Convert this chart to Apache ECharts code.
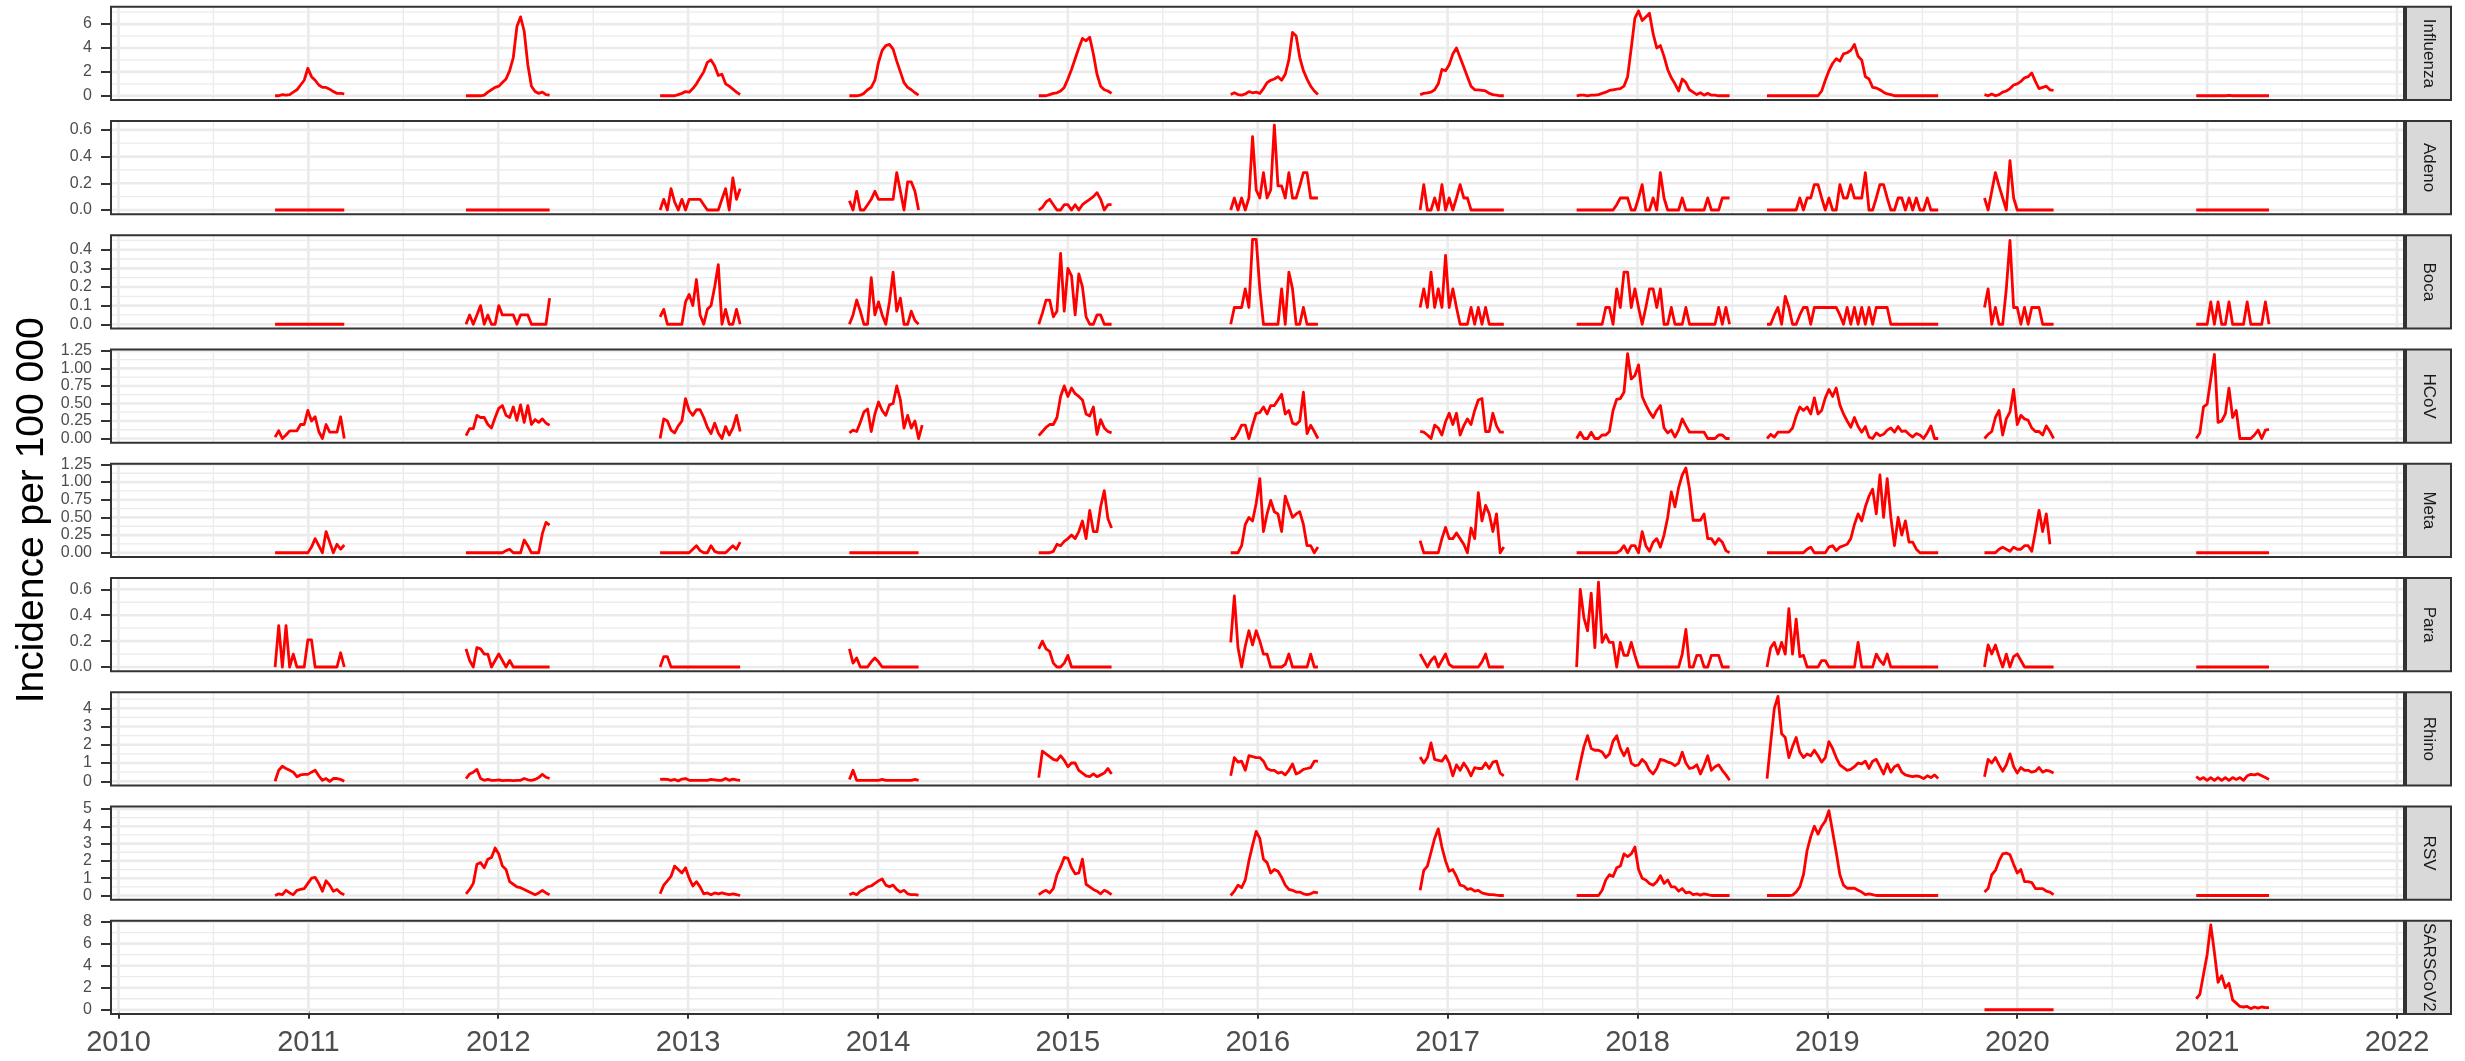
<!DOCTYPE html>
<html><head><meta charset="utf-8">
<script src="https://cdn.jsdelivr.net/npm/echarts@6/dist/echarts.min.js"></script>
<style>html,body{margin:0;padding:0;background:#fff}#c{width:2465px;height:1061px}</style>
</head><body><div id="c"></div>
<script>
// ---------------- DATA ----------------
const seasonStarts = ['2010-10-29','2011-10-31','2012-11-08','2013-11-07','2014-11-06','2015-11-10','2016-11-09','2017-09-06','2018-09-07','2019-10-30','2020-12-11'];
const pathogens = ['Influenza','Adeno','Boca','HCoV','Meta','Para','Rhino','RSV','SARSCoV2'];
const xTickYears = [2010,2011,2012,2013,2014,2015,2016,2017,2018,2019,2020,2021,2022];
const xMinorYears = [2010.5,2011.5,2012.5,2013.5,2014.5,2015.5,2016.5,2017.5,2018.5,2019.5,2020.5,2021.5];

const influenza = [
 [0,0,0.1,0.05,0.1,0.3,0.5,0.9,1.3,2.3,1.6,1.3,0.9,0.7,0.7,0.55,0.35,0.2,0.2,0.15],
 [0,0,0,0,0,0.05,0.3,0.5,0.7,0.8,1.1,1.4,2.1,3.2,5.8,6.6,5.4,2.6,0.8,0.35,0.2,0.3,0.1,0.05],
 [0,0,0,0,0,0.1,0.2,0.35,0.3,0.6,1.0,1.5,2.0,2.8,3.0,2.5,1.7,1.8,1.0,0.8,0.55,0.3,0.1],
 [0,0,0,0.05,0.2,0.5,0.7,1.3,2.8,3.8,4.2,4.3,3.9,2.9,2.0,1.1,0.7,0.5,0.25,0.05],
 [0,0,0,0.1,0.2,0.25,0.4,0.7,1.4,2.2,3.1,4.0,4.8,4.6,4.9,3.5,1.8,0.8,0.5,0.4,0.2],
 [0.1,0.25,0.1,0.05,0.15,0.35,0.25,0.3,0.2,0.6,1.1,1.3,1.4,1.6,1.3,1.8,3.0,5.3,5.0,3.2,2.1,1.4,0.8,0.4,0.1],
 [0.1,0.2,0.25,0.3,0.5,1.0,2.2,2.1,2.6,3.5,4.0,3.2,2.4,1.6,0.8,0.5,0.5,0.45,0.4,0.2,0.1,0.05,0,0],
 [0,0.05,0.05,0,0.05,0.05,0.1,0.2,0.3,0.45,0.5,0.55,0.6,0.8,1.6,4.0,6.5,7.1,6.3,6.6,6.9,5.2,4.0,4.2,3.3,2.2,1.5,1.0,0.4,1.4,1.1,0.5,0.3,0.1,0.25,0.05,0.2,0.05,0.05,0,0,0,0],
 [0,0,0,0,0,0,0,0,0,0,0,0,0,0,0,0.4,1.3,2.1,2.7,3.1,2.9,3.5,3.6,3.8,4.3,3.3,3.0,1.6,1.4,0.7,0.65,0.5,0.3,0.15,0.1,0,0,0,0,0,0,0,0,0,0,0,0,0],
 [0.1,0,0.15,0,0.1,0.3,0.4,0.6,0.9,1.0,1.2,1.5,1.6,1.9,1.2,0.6,0.7,0.8,0.5,0.45],
 [0,0,0,0,0,0,0,0,0,0.03,0,0,0,0,0,0,0,0,0,0,0]
];
const adeno = [
 [0,0,0,0,0,0,0,0,0,0,0,0,0,0,0,0,0,0,0,0],
 [0,0,0,0,0,0,0,0,0,0,0,0,0,0,0,0,0,0,0,0,0,0,0,0],
 [0,0.08,0,0.16,0.06,0,0.08,0,0.08,0.08,0.08,0.08,0.04,0,0,0,0,0.08,0.16,0,0.24,0.08,0.16],
 [0.07,0,0.14,0,0,0.04,0.08,0.14,0.08,0.08,0.08,0.08,0.08,0.28,0.14,0,0.21,0.21,0.14,0],
 [0,0.02,0.06,0.08,0.04,0,0,0.04,0.04,0,0.04,0,0.04,0.06,0.08,0.1,0.13,0.08,0,0.04,0.04],
 [0,0.09,0,0.09,0,0.09,0.55,0.15,0.09,0.28,0.09,0.15,0.635,0.18,0.18,0.09,0.28,0.09,0.09,0.18,0.28,0.28,0.09,0.09,0.09],
 [0,0.19,0,0,0.09,0,0.19,0,0.09,0,0.09,0.19,0.09,0.09,0,0,0,0,0,0,0,0,0,0],
 [0,0,0,0,0,0,0,0,0,0,0,0.04,0.09,0.09,0.09,0,0,0.09,0.19,0,0,0.09,0,0.28,0.09,0,0,0,0,0.09,0,0,0,0,0,0,0.09,0,0,0,0.09,0.09,0.09],
 [0,0,0,0,0,0,0,0,0,0.09,0,0.09,0.09,0.19,0.19,0.09,0,0.09,0,0,0.19,0.09,0.09,0.19,0.09,0.09,0.09,0.28,0,0,0.09,0.19,0.19,0.09,0,0,0.09,0.09,0,0.09,0,0.09,0,0,0.09,0,0,0],
 [0.09,0,0.14,0.28,0.18,0.09,0,0.37,0.09,0,0,0,0,0,0,0,0,0,0,0],
 [0,0,0,0,0,0,0,0,0,0,0,0,0,0,0,0,0,0,0,0,0]
];
const boca = [
 [0,0,0,0,0,0,0,0,0,0,0,0,0,0,0,0,0,0,0,0],
 [0,0.05,0,0.05,0.1,0,0.05,0,0,0.1,0.05,0.05,0.05,0.05,0,0.05,0.05,0.05,0,0,0,0,0,0.14],
 [0.04,0.08,0,0,0,0,0,0.12,0.16,0.1,0.24,0.05,0,0.08,0.1,0.2,0.32,0,0.08,0,0,0.08,0],
 [0,0.05,0.13,0.07,0,0,0.25,0.05,0.12,0.05,0,0.12,0.28,0.07,0.14,0,0,0.07,0.02,0],
 [0,0.06,0.13,0.13,0.04,0.07,0.38,0.07,0.3,0.26,0.05,0.27,0.2,0.04,0,0,0.05,0.05,0,0,0],
 [0,0.09,0.09,0.09,0.19,0.09,0.455,0.455,0.19,0,0,0,0,0,0.19,0,0.28,0.19,0,0,0.09,0,0,0,0],
 [0.09,0.19,0.09,0.28,0.09,0.19,0.09,0.37,0.09,0.19,0.09,0,0,0,0.09,0,0.09,0,0.09,0,0,0,0,0],
 [0,0,0,0,0,0,0,0,0.09,0.09,0,0.19,0.09,0.28,0.28,0.09,0.19,0.09,0,0.09,0.19,0.19,0.09,0.19,0,0,0.09,0,0,0,0.09,0,0,0,0,0,0,0,0,0.09,0,0.09,0],
 [0,0,0.05,0.09,0,0.15,0.09,0,0,0.05,0.09,0.09,0,0.09,0.09,0.09,0.09,0.09,0.09,0.09,0.05,0,0.09,0,0.09,0,0.09,0,0.09,0,0.09,0.09,0.09,0.09,0,0,0,0,0,0,0,0,0,0,0,0,0,0],
 [0.09,0.19,0,0.09,0,0,0.19,0.45,0.09,0.09,0,0.09,0,0.09,0.09,0.09,0,0,0,0],
 [0,0,0,0,0.12,0,0.12,0,0,0.12,0,0,0,0,0.12,0,0,0,0,0.12,0]
];
const hcov = [
 [0.02,0.11,0,0.05,0.11,0.11,0.11,0.2,0.2,0.4,0.25,0.31,0.1,0,0.2,0.09,0.09,0.09,0.31,0],
 [0.04,0.14,0.14,0.33,0.3,0.3,0.2,0.15,0.3,0.43,0.47,0.33,0.3,0.45,0.26,0.48,0.23,0.47,0.2,0.27,0.23,0.28,0.22,0.19],
 [0,0.28,0.25,0.12,0.08,0.18,0.25,0.57,0.4,0.33,0.41,0.41,0.3,0.16,0.07,0.22,0.08,0,0.17,0.05,0.15,0.33,0.1],
 [0.08,0.12,0.1,0.23,0.38,0.42,0.1,0.35,0.52,0.4,0.33,0.48,0.5,0.75,0.55,0.15,0.33,0.15,0.25,0,0.19],
 [0.04,0.1,0.16,0.2,0.2,0.3,0.6,0.75,0.6,0.72,0.64,0.6,0.55,0.35,0.32,0.45,0.06,0.27,0.15,0.1,0.08],
 [0,0,0.08,0.19,0.19,0,0.19,0.36,0.37,0.45,0.35,0.47,0.47,0.55,0.63,0.35,0.4,0.22,0.2,0.25,0.66,0.07,0.19,0.1,0],
 [0.1,0.09,0.05,0,0.19,0.15,0.05,0.24,0.36,0.2,0.36,0.05,0.18,0.28,0.2,0.4,0.55,0.57,0.1,0.1,0.36,0.18,0.09,0.09],
 [0,0.09,0,0,0.09,0,0,0.05,0.05,0.1,0.4,0.56,0.57,0.66,1.21,0.85,0.9,1.05,0.6,0.48,0.38,0.3,0.4,0.47,0.15,0.08,0.12,0.02,0.12,0.28,0.18,0.09,0.09,0.09,0.09,0.09,0,0,0,0.05,0.05,0,0],
 [0,0.06,0.02,0.09,0.09,0.09,0.09,0.15,0.32,0.45,0.4,0.45,0.35,0.58,0.35,0.4,0.58,0.7,0.6,0.72,0.48,0.35,0.25,0.16,0.3,0.17,0.09,0.17,0.02,0,0.08,0.04,0.06,0.12,0.15,0.09,0.17,0.1,0.11,0.06,0.02,0.07,0.05,0,0.08,0.18,0,0],
 [0,0.06,0.1,0.3,0.4,0.05,0.28,0.38,0.7,0.2,0.33,0.28,0.26,0.15,0.1,0.1,0.05,0.18,0.1,0],
 [0,0.08,0.45,0.49,0.85,1.2,0.23,0.25,0.35,0.72,0.3,0.4,0,0,0,0,0.05,0.12,0,0.12,0.13]
];
const meta = [
 [0,0,0,0,0,0,0,0,0,0,0.08,0.2,0.1,0,0.3,0.15,0,0.12,0.05,0.11],
 [0,0,0,0,0,0,0,0,0,0,0,0.03,0.05,0,0,0,0.18,0.1,0,0,0,0.27,0.43,0.39],
 [0,0,0,0,0,0,0,0,0,0.05,0.1,0.03,0,0,0.1,0.02,0,0,0,0.05,0.1,0.05,0.15],
 [0,0,0,0,0,0,0,0,0,0,0,0,0,0,0,0,0,0,0,0],
 [0,0,0,0,0.02,0.12,0.1,0.16,0.2,0.25,0.2,0.3,0.45,0.2,0.6,0.3,0.3,0.65,0.88,0.48,0.35],
 [0,0,0,0.1,0.4,0.5,0.45,0.7,1.05,0.3,0.55,0.74,0.58,0.55,0.3,0.8,0.65,0.5,0.55,0.58,0.4,0.1,0.1,0,0.08],
 [0.17,0,0,0,0,0,0.2,0.36,0.2,0.2,0.28,0.2,0.12,0,0.35,0.2,0.85,0.45,0.67,0.55,0.3,0.55,0,0.08],
 [0,0,0,0,0,0,0,0,0,0,0,0,0.03,0.1,0,0.1,0.1,0,0.3,0.1,0.02,0.15,0.2,0.08,0.25,0.5,0.86,0.65,0.92,1.1,1.2,0.9,0.46,0.46,0.46,0.55,0.2,0.2,0.12,0.2,0.15,0.03,0],
 [0,0,0,0,0,0,0,0,0,0,0,0.05,0.08,0,0,0,0,0.08,0.1,0.03,0.08,0.1,0.12,0.2,0.4,0.55,0.45,0.65,0.8,0.9,0.55,1.1,0.5,1.05,0.5,0.1,0.5,0.25,0.45,0.15,0.15,0.05,0,0,0,0,0,0],
 [0,0,0,0,0.05,0.08,0.05,0.02,0.08,0.05,0.05,0.1,0.1,0.02,0.3,0.6,0.3,0.55,0.12],
 [0,0,0,0,0,0,0,0,0,0,0,0,0,0,0,0,0,0,0,0,0]
];
const para = [
 [0,0.32,0,0.32,0,0.1,0,0,0,0.21,0.21,0,0,0,0,0,0,0,0.11,0],
 [0.14,0.05,0,0.15,0.14,0.1,0.1,0,0.05,0.1,0.05,0,0.05,0,0,0,0,0,0,0,0,0,0,0],
 [0,0.08,0.08,0,0,0,0,0,0,0,0,0,0,0,0,0,0,0,0,0,0,0,0],
 [0.14,0.03,0.07,0,0,0,0.04,0.07,0.04,0,0,0,0,0,0,0,0,0,0,0],
 [0.14,0.2,0.14,0.12,0.03,0,0,0.03,0.09,0,0,0,0,0,0,0,0,0,0,0,0],
 [0.19,0.55,0.15,0,0.16,0.28,0.17,0.28,0.2,0.1,0.1,0,0,0,0,0.02,0.1,0,0,0,0,0,0.1,0,0],
 [0.1,0.05,0,0.05,0.08,0,0.05,0.1,0.02,0,0,0,0,0,0,0,0,0.04,0.1,0,0,0,0,0],
 [0,0.6,0.38,0.28,0.57,0.15,0.655,0.19,0.25,0.19,0.19,0,0.19,0.09,0.09,0.19,0.09,0,0,0,0,0,0,0,0,0,0,0,0,0.1,0.29,0,0,0.09,0.09,0,0,0.09,0.09,0.09,0,0,0],
 [0,0.15,0.19,0.1,0.19,0.1,0.45,0.1,0.37,0.08,0.09,0,0,0,0,0.05,0.05,0,0,0,0,0,0,0,0,0.19,0,0,0,0,0.1,0.05,0.02,0.1,0,0,0,0,0,0,0,0,0,0,0,0,0,0],
 [0,0.17,0.1,0.17,0.08,0,0.1,0,0.08,0.1,0.05,0,0,0,0,0,0,0,0,0],
 [0,0,0,0,0,0,0,0,0,0,0,0,0,0,0,0,0,0,0,0,0]
];
const rhino = [
 [0,0.6,0.82,0.7,0.6,0.5,0.25,0.35,0.38,0.38,0.5,0.6,0.3,0.05,0.15,0,0.15,0.15,0.1,0],
 [0.15,0.4,0.5,0.65,0.15,0.05,0.1,0.05,0.05,0.08,0.03,0.05,0.05,0.03,0.05,0.05,0.15,0.08,0.05,0.1,0.2,0.38,0.22,0.15],
 [0.1,0.12,0.1,0.05,0.1,0.02,0.12,0.15,0.05,0.05,0.05,0.05,0.05,0.05,0.1,0.08,0.05,0.05,0.15,0.05,0.12,0.08,0.05],
 [0.1,0.6,0.05,0.05,0.05,0.05,0.05,0.05,0.05,0.1,0.05,0.05,0.05,0.05,0.05,0.05,0.05,0.05,0.1,0.05],
 [0.2,1.65,1.5,1.35,1.2,1.15,1.4,1.15,0.8,1.0,1.0,0.6,0.45,0.3,0.25,0.4,0.25,0.35,0.45,0.7,0.4],
 [0.3,1.3,1.05,1.1,0.6,1.4,1.35,1.3,1.3,1.1,0.7,0.6,0.6,0.45,0.5,0.35,0.6,0.95,0.4,0.5,0.65,0.7,0.75,1.1,1.1],
 [1.33,1.0,1.3,2.1,1.2,1.15,1.1,1.4,1.0,0.3,0.9,0.6,1.0,0.7,0.3,0.75,0.7,0.7,1.0,0.7,1.05,1.1,0.45,0.3],
 [0.05,1.0,1.9,2.5,1.8,1.7,1.7,1.6,1.3,1.5,2.2,2.5,1.8,1.4,1.8,1.0,0.85,0.9,1.2,1.0,0.6,0.4,0.7,1.2,1.15,1.05,1.0,0.85,1.0,1.6,1.0,0.7,0.75,0.9,0.4,0.85,1.4,0.6,0.8,0.9,0.6,0.35,0.05],
 [0.15,2.1,4.0,4.65,2.6,2.4,1.3,1.9,2.4,1.6,1.3,1.5,1.4,1.7,1.4,1.05,1.3,2.17,1.8,1.3,0.9,0.75,0.6,0.65,0.8,1.0,0.95,1.1,0.7,1.1,1.2,0.8,0.4,0.95,0.5,0.8,0.9,0.5,0.35,0.3,0.25,0.3,0.25,0.15,0.3,0.2,0.35,0.15],
 [0.25,1.2,1.0,1.3,0.9,0.55,0.9,1.5,0.8,0.45,0.75,0.6,0.6,0.5,0.55,0.75,0.5,0.6,0.55,0.45],
 [0.25,0.1,0.2,0.05,0.2,0.05,0.2,0.05,0.2,0.05,0.2,0.1,0.2,0.05,0.3,0.38,0.35,0.4,0.3,0.2,0.1]
];
const rsv = [
 [0,0.1,0.05,0.3,0.15,0.05,0.3,0.35,0.4,0.7,1.0,1.05,0.7,0.25,0.85,0.6,0.25,0.35,0.15,0.05],
 [0.1,0.35,0.7,1.8,1.9,1.6,2.1,2.2,2.75,2.4,1.7,1.5,0.8,0.65,0.5,0.45,0.35,0.25,0.15,0.05,0.15,0.3,0.15,0.05],
 [0.1,0.6,0.85,1.1,1.7,1.5,1.3,1.6,1.0,0.55,0.8,0.5,0.1,0.15,0.05,0.15,0.1,0.15,0.1,0.05,0.1,0.05,0],
 [0.05,0.15,0.05,0.25,0.35,0.5,0.55,0.7,0.85,0.95,0.6,0.5,0.6,0.35,0.2,0.3,0.1,0.05,0.05,0.02],
 [0.05,0.2,0.3,0.15,0.4,1.2,1.65,2.2,2.15,1.6,1.25,1.3,2.1,0.65,0.5,0.35,0.25,0.1,0.3,0.2,0.05],
 [0,0.25,0.6,0.45,0.9,2.0,2.9,3.7,3.3,2.1,1.9,1.3,1.5,1.4,1.05,0.6,0.35,0.3,0.2,0.2,0.1,0.05,0.1,0.2,0.15],
 [0.3,1.45,1.7,2.5,3.3,3.85,2.8,2.0,1.4,1.5,1.1,0.6,0.55,0.35,0.4,0.25,0.3,0.15,0.1,0.05,0.05,0.02,0,0],
 [0,0,0,0,0,0,0,0.3,0.9,1.2,1.1,1.6,1.7,2.4,2.25,2.4,2.8,1.5,1.0,0.9,0.7,0.6,0.8,1.15,0.7,0.9,0.5,0.5,0.25,0.4,0.15,0.2,0.05,0.1,0.02,0.1,0.05,0,0,0,0,0,0],
 [0,0,0,0,0,0,0,0.02,0.2,0.5,1.2,2.6,3.4,4.0,3.55,4.0,4.3,4.9,3.7,2.5,1.2,0.6,0.42,0.42,0.42,0.3,0.2,0.05,0.1,0.05,0,0,0,0,0,0,0,0,0,0,0,0,0,0,0,0,0,0],
 [0.2,0.4,1.2,1.45,2.0,2.4,2.45,2.35,1.8,1.3,1.5,0.8,0.8,0.75,0.4,0.4,0.4,0.25,0.2,0.05],
 [0,0,0,0,0,0,0,0,0,0,0,0,0,0,0,0,0,0,0,0,0]
];
const sarscov2 = [
 null,null,null,null,null,null,null,null,null,
 [0,0,0,0,0,0,0,0,0,0,0,0,0,0,0,0,0,0,0,0],
 [1.0,1.4,3.2,5.0,7.7,5.2,2.5,3.1,2.0,2.4,0.9,0.6,0.3,0.25,0.3,0.1,0.25,0.15,0.25,0.2,0.2]
];
const seriesValues = [influenza, adeno, boca, hcov, meta, para, rhino, rsv, sarscov2];

const yTickValues = [
 [0,2,4,6], [0,0.2,0.4,0.6], [0,0.1,0.2,0.3,0.4], [0,0.25,0.5,0.75,1,1.25], [0,0.25,0.5,0.75,1,1.25],
 [0,0.2,0.4,0.6], [0,1,2,3,4], [0,1,2,3,4,5], [0,2,4,6,8]
];
const yMinorValues = [
 [1,3,5,7], [0.1,0.3,0.5], [0.05,0.15,0.25,0.35,0.45], [0.125,0.375,0.625,0.875,1.125], [0.125,0.375,0.625,0.875,1.125],
 [0.1,0.3,0.5], [0.5,1.5,2.5,3.5,4.5], [0.5,1.5,2.5,3.5,4.5], [1,3,5,7]
];
const yLabelDecimals = [0,1,1,2,2,1,0,0,0];

// ---------------- LAYOUT / STYLE ----------------
const FONT = '"Liberation Sans", Arial, Helvetica, sans-serif';
const PANEL_LEFT = 111, PANEL_RIGHT = 2404, PANEL_TOP0 = 6.7, PANEL_STEP = 114.25, PANEL_H = 93.3;
const STRIP_X = 2406, STRIP_W = 45;
const PX_PER_YEAR = (2397 - 118.5) / 12;
const X_MIN = 2010 - (118.5 - PANEL_LEFT) / PX_PER_YEAR;
const X_MAX = 2022 + (PANEL_RIGHT - 2397) / PX_PER_YEAR;

function decYear(ms) {
  const d = new Date(ms); const y = d.getUTCFullYear();
  const a = Date.UTC(y, 0, 1), b = Date.UTC(y + 1, 0, 1);
  return y + (ms - a) / (b - a);
}
function weekX(start, k) { return decYear(Date.parse(start + 'T00:00:00Z') + k * 7 * 864e5); }

const grids = [], xAxes = [], yAxes = [], series = [], graphics = [];
const n = pathogens.length;

pathogens.forEach((name, i) => {
  const top = PANEL_TOP0 + i * PANEL_STEP;
  const isLast = i === n - 1;
  grids.push({ left: PANEL_LEFT, top: top, width: PANEL_RIGHT - PANEL_LEFT, height: PANEL_H, containLabel: false });

  const seasons = seriesValues[i];
  let M = 0;
  seasons.forEach(s => { if (s) s.forEach(v => { if (v > M) M = v; }); });
  const yMin = -0.05 * M, yMax = 1.05 * M;
  const ticks = yTickValues[i];
  const step = ticks[1] - ticks[0];
  const dec = yLabelDecimals[i];

  xAxes.push({
    type: 'value', gridIndex: i, min: X_MIN, max: X_MAX,
    minInterval: 1, maxInterval: 1,
    axisLine: { show: false },
    splitLine: { show: false },
    axisTick: { show: isLast, length: 9, lineStyle: { color: '#333333', width: 2 }, customValues: xTickYears },
    axisLabel: {
      show: isLast, customValues: xTickYears, fontSize: 29, color: '#4d4d4d', fontFamily: FONT, margin: 14,
      formatter: v => (Math.abs(v - Math.round(v)) < 1e-6 ? String(Math.round(v)) : '')
    }
  });
  yAxes.push({
    type: 'value', gridIndex: i, min: yMin, max: yMax,
    minInterval: step, maxInterval: step,
    axisLine: { show: false },
    splitLine: { show: false },
    axisTick: { show: true, length: 10, lineStyle: { color: '#333333', width: 2 }, customValues: ticks },
    axisLabel: {
      show: true, customValues: ticks, fontSize: 16, color: '#4d4d4d', fontFamily: FONT, margin: 19,
      formatter: v => {
        const ok = ticks.some(t => Math.abs(t - v) < 1e-9);
        return ok ? Number(v).toFixed(dec) : '';
      }
    }
  });

  // background grid lines (major / minor) as a custom series
  const gridData = [];
  xTickYears.forEach(v => gridData.push([v, 0, 0, 1]));
  xMinorYears.forEach(v => gridData.push([v, 0, 0, 0]));
  ticks.forEach(v => { if (v >= yMin && v <= yMax) gridData.push([2016, v, 1, 1]); });
  yMinorValues[i].forEach(v => { if (v >= yMin && v <= yMax) gridData.push([2016, v, 1, 0]); });
  series.push({
    type: 'custom', xAxisIndex: i, yAxisIndex: i, z: 1, silent: true, animation: false,
    encode: { x: 0, y: 1 },
    data: gridData,
    renderItem: (params, api) => {
      const cs = params.coordSys;
      const orient = api.value(2), major = api.value(3);
      const p = api.coord([api.value(0), api.value(1)]);
      const shape = orient === 0
        ? { x1: p[0], y1: cs.y, x2: p[0], y2: cs.y + cs.height }
        : { x1: cs.x, y1: p[1], x2: cs.x + cs.width, y2: p[1] };
      return { type: 'line', shape: shape, style: { stroke: '#ebebeb', lineWidth: major ? 2.6 : 1.3 }, silent: true };
    }
  });

  seasons.forEach((vals, s) => {
    if (!vals) return;
    series.push({
      type: 'line', xAxisIndex: i, yAxisIndex: i, z: 3, silent: true, animation: false,
      showSymbol: false, symbol: 'none',
      lineStyle: { color: '#ff0000', width: 2.8, join: 'round' },
      data: vals.map((v, k) => [weekX(seasonStarts[s], k), v])
    });
  });

  // panel border
  graphics.push({
    type: 'rect', z: 100, silent: true,
    shape: { x: PANEL_LEFT, y: top, width: PANEL_RIGHT - PANEL_LEFT, height: PANEL_H },
    style: { fill: 'none', stroke: '#333333', lineWidth: 2 }
  });
  // strip
  graphics.push({
    type: 'rect', z: 100, silent: true,
    shape: { x: STRIP_X, y: top, width: STRIP_W, height: PANEL_H },
    style: { fill: '#d9d9d9', stroke: '#333333', lineWidth: 2 }
  });
  graphics.push({
    type: 'text', z: 101, silent: true,
    x: STRIP_X + STRIP_W / 2, y: top + PANEL_H / 2, rotation: -Math.PI / 2,
    style: { text: name, x: 0, y: 0, fontSize: 17, fontFamily: FONT, fill: '#1a1a1a',
             align: 'center', verticalAlign: 'middle', textAlign: 'center', textVerticalAlign: 'middle' }
  });
});

graphics.push({
  type: 'text', z: 101, silent: true,
  x: 32, y: PANEL_TOP0 + ((n - 1) * PANEL_STEP + PANEL_H) / 2, rotation: Math.PI / 2,
  style: { text: 'Incidence per 100 000', x: 0, y: 0, fontSize: 39, fontFamily: FONT, fill: '#000000',
           align: 'center', verticalAlign: 'middle', textAlign: 'center', textVerticalAlign: 'middle' }
});

const chart = echarts.init(document.getElementById('c'), null, { renderer: 'canvas' });
chart.setOption({
  animation: false,
  backgroundColor: '#ffffff',
  grid: grids, xAxis: xAxes, yAxis: yAxes, series: series, graphic: graphics
});
</script>
</body></html>
